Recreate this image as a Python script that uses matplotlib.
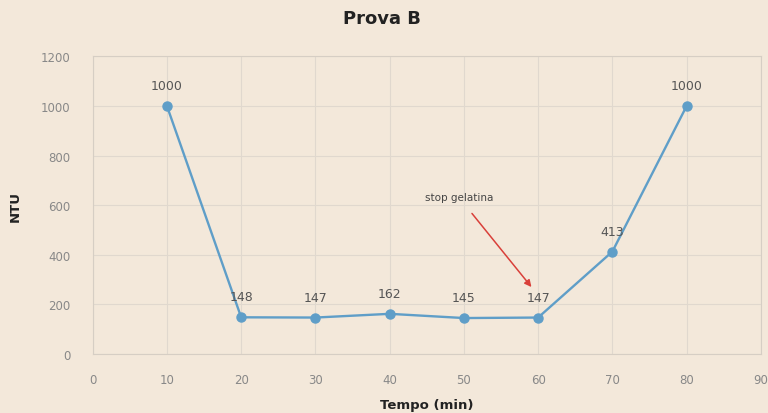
import matplotlib.pyplot as plt

tempo = [10, 20, 30, 40, 50, 60, 70, 80]
ntu = [1000, 148, 147, 162, 145, 147, 413, 1000]
x_ticks = list(range(0, 100, 10))
y_ticks = list(range(0, 1400, 200))

bg = '#f3e8da'
fig = plt.figure(figsize=(7.68, 4.14), dpi=100, facecolor=bg)
ax = fig.add_axes([0.1207, 0.1425, 0.870, 0.7188], facecolor=bg)

ax.plot(tempo, ntu, color='#5f9ec8', linewidth=1.7, marker='o', markersize=6.5, zorder=3)
for x, y in zip(tempo, ntu):
    ax.annotate(str(y), (x, y), xytext=(0, 10), textcoords='offset points',
                ha='center', va='bottom', fontsize=9, color='#555555')

ax.annotate('stop gelatina', xy=(59.1, 270), xytext=(49.3, 633),
            ha='center', va='center', fontsize=7.5, color='#444444',
            arrowprops=dict(arrowstyle='-|>', color='#d9403a', lw=1.1,
                            shrinkA=8, shrinkB=0, mutation_scale=10))

ax.set_xlim(0, 90)
ax.set_ylim(0, 1200)
ax.set_xticks(x_ticks)
ax.set_yticks(y_ticks)
ax.grid(True, color='#e0d8ce', linewidth=0.8)
ax.tick_params(length=0, labelsize=8.5, colors='#888888')
ax.tick_params(axis='x', pad=14)
ax.tick_params(axis='y', pad=16)
for s in ax.spines.values():
    s.set_color('#d6cec4')
    s.set_linewidth(0.8)

ax.set_xlabel('Tempo (min)', fontsize=9.5, fontweight='bold', color='#222222', labelpad=8)
ax.set_ylabel('NTU', fontsize=9.5, fontweight='bold', color='#222222', labelpad=14)
fig.suptitle('Prova B', x=0.497, y=0.975, fontsize=13, fontweight='bold', color='#222222')

fig.savefig('out.png', dpi=100, facecolor=bg)
